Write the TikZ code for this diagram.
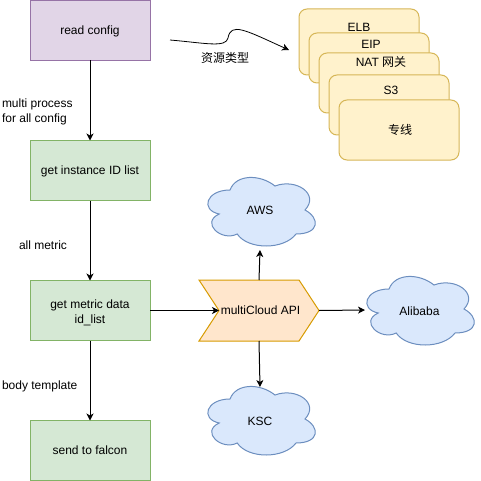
\documentclass[tikz,border=0pt]{standalone}
\usepackage{fontspec}
\setmainfont{Liberation Sans}
\newfontfamily\cjk{Noto Sans CJK SC}
\usetikzlibrary{arrows.meta,calc,backgrounds}
\definecolor{purplefill}{HTML}{E1D5E7}
\definecolor{purpleline}{HTML}{9673A6}
\definecolor{greenfill}{HTML}{D5E8D4}
\definecolor{greenline}{HTML}{82B366}
\definecolor{yellowfill}{HTML}{FFF2CC}
\definecolor{yellowline}{HTML}{D6B656}
\definecolor{bluefill}{HTML}{DAE8FC}
\definecolor{blueline}{HTML}{6C8EBF}
\definecolor{orangefill}{HTML}{FFE6CC}
\definecolor{orangeline}{HTML}{D79B00}
\tikzset{
  base/.style={font=\fontsize{12}{15}\selectfont, inner sep=0pt, outer sep=0pt, text height=10pt, text depth=1.6pt},
  multi/.style={font=\fontsize{12}{15}\selectfont, inner sep=0pt, outer sep=0pt},
  procbox/.style={base, draw=greenline, fill=greenfill, line width=1pt, minimum width=120pt, minimum height=60pt, align=center},
  cfgbox/.style={procbox, draw=purpleline, fill=purplefill},
  ybox/.style={base, draw=yellowline, fill=yellowfill, line width=1pt, rounded corners=8pt, minimum width=120pt},
  cloudnode/.style={base, minimum width=120pt, minimum height=80pt},
  cloudsty/.style={draw=blueline, fill=bluefill, line width=1pt},
  lbl/.style={base, align=left},
  arr/.style={-{Stealth[length=7pt,width=7pt,inset=2pt]}, line width=1pt, black},
}
\newcommand{\drawcloud}[1]{%
  \begin{scope}[shift={(#1.north west)}, x=120pt, y=-80pt]
    \draw[cloudsty] (0.25,0.25) .. controls (0.05,0.25) and (0,0.5) .. (0.16,0.55)
      .. controls (0,0.66) and (0.18,0.9) .. (0.31,0.8)
      .. controls (0.4,1) and (0.7,1) .. (0.8,0.8)
      .. controls (1,0.8) and (1,0.6) .. (0.875,0.5)
      .. controls (1,0.3) and (0.8,0.1) .. (0.625,0.2)
      .. controls (0.5,0.05) and (0.3,0.05) .. (0.25,0.25) -- cycle;
  \end{scope}}
\begin{document}
\begin{tikzpicture}[x=1pt, y=-1pt]
\useasboundingbox (0,0) rectangle (480,481);

% left column
\node[cfgbox] (rc) at (90,30.5) {read config};
\node[procbox] (gi) at (90,170.5) {get instance ID list};
\node[procbox] (gm) at (90,310.5) {};
\node[multi, align=center] (tgm) at (90,313) {get metric data\\id\_list};
\node[procbox] (sf) at (90,450.5) {send to falcon};

\draw[arr] (rc.south) -- (gi.north);
\draw[arr] (gi.south) -- (gm.north);
\draw[arr] (gm.south) -- (sf.north);

\node[multi, align=left, anchor=west] (l1) at (2,111.5) {multi process\\for all config};
\node[lbl, anchor=west] (l2) at (19,245) {all metric};
\node[lbl, anchor=west] (l3) at (2,385) {body template};

% stacked resource boxes
\node[ybox, minimum height=66pt] (elb) at (359,42) {};
\node[base] (telb) at (359,27) {ELB};
\node[ybox, minimum height=50pt] (eip) at (369,58) {};
\node[base] (teip) at (371,44) {EIP};
\node[ybox, minimum height=60pt] (nat) at (379,83) {};
\node[base] (tnat) at (381,62) {NAT {\cjk 网关}};
\node[ybox, minimum height=60pt] (s3) at (389,105) {};
\node[base] (ts3) at (391,90) {S3};
\node[ybox, minimum height=60pt] (zx) at (399,130) {};
\node[base] (tzx) at (400,130) {\cjk 专线};

% curvy arrow
\coordinate (cs) at (170,40);
\coordinate (ce) at (289,50);
\draw[arr, line width=0.8pt] (cs) .. controls (205,43) and (226,48) .. (228,38)
  .. controls (231,22) and (245,30) .. (ce);
\node[base] (tzy) at (225,58) {\cjk 资源类型};

% multiCloud API chevron
\node[base, minimum width=120pt, minimum height=61pt] (mc) at (259,310.5) {};
\fill[orangefill, draw=orangeline, line width=1pt] (mc.north west) -- ($(mc.north east)+(-20,0)$) -- (mc.east)
  -- ($(mc.south east)+(-20,0)$) -- (mc.south west) -- ($(mc.west)+(20,0)$) -- cycle;
\node[base] (tmc) at (260.5,310.5) {multiCloud API};
\coordinate (mcnotch) at ($(mc.west)+(20,0)$);

% clouds
\node[cloudnode] (aws) at (260,210) {};
\node[cloudnode] (ali) at (419,309) {};
\node[cloudnode] (ksc) at (260,419) {};
\drawcloud{aws}
\drawcloud{ali}
\drawcloud{ksc}
\node[base] (taws) at (260,210) {AWS};
\node[base] (tali) at (419.5,311) {Alibaba};
\node[base] (tksc) at (260,421) {KSC};

\coordinate (kscTop) at ($(ksc.north)+(0,8)$);
\coordinate (aliLeft) at ($(ali.west)+(6,1)$);
\draw[arr] (gm.east) -- (mcnotch);
\draw[arr] (mc.north) -- (aws.south);
\draw[arr] (mc.east) -- (aliLeft);
\draw[arr] (mc.south) -- (kscTop);
\end{tikzpicture}
\end{document}
